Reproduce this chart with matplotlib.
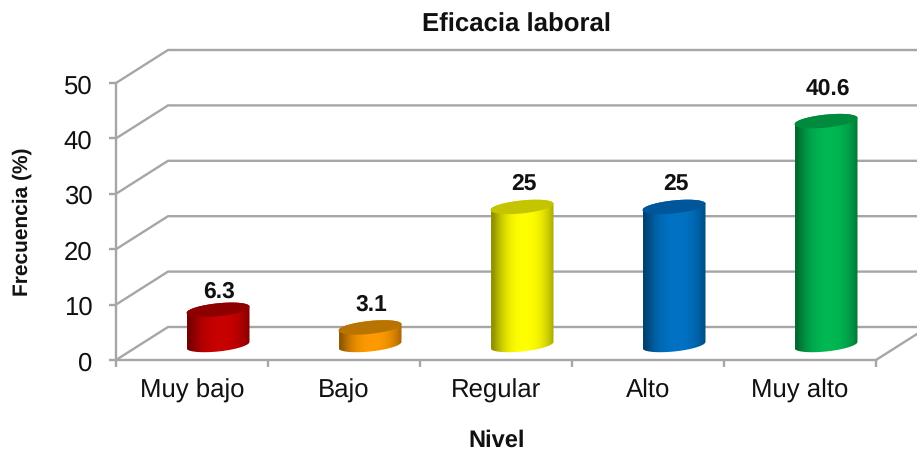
import numpy as np
import matplotlib
matplotlib.use("Agg")
import matplotlib.pyplot as plt
from matplotlib.patches import Polygon
from matplotlib.colors import to_rgb

niveles = ["Muy bajo", "Bajo", "Regular", "Alto", "Muy alto"]
valores = [6.3, 3.1, 25, 25, 40.6]
etiquetas = ["6.3", "3.1", "25", "25", "40.6"]
y_ticks = [0, 10, 20, 30, 40, 50]

col_lado = ["#c80000", "#ff9a00", "#ffff00", "#0072c4", "#00b853"]
col_tapa = ["#8e0000", "#b87300", "#c4c400", "#00569a", "#008a3e"]
# separacion de cada etiqueta sobre su cilindro, en px
sep_etiqueta = [15, 19, 20, 20, 29]

W, H = 917, 452
gris = "#a6a6a6"

plt.rcParams["font.family"] = ["Liberation Sans", "DejaVu Sans"]
plt.rcParams["text.hinting"] = "no_hinting"
fig = plt.figure(figsize=(W / 100, H / 100), dpi=100)
# eje frontal: x 116-876 px, y 84-361 px
ax = fig.add_axes([116 / W, 1 - 361 / H, 760 / W, 277 / H])
ax.set_xlim(0, 5)
ax.set_ylim(0, 50)
ax.patch.set_visible(False)

# profundidad del 3D en unidades de datos
px_x = 5 / 760
px_y = 50 / 277
dx = 52 * px_x
dy = 33 * px_y

# paredes y lineas de rejilla
for v in y_ticks:
    ax.plot([0, dx, 5 + dx], [v, v + dy, v + dy], color=gris, lw=1.7, clip_on=False, zorder=1)
ax.plot([5, 5 + dx], [0, dy], color=gris, lw=1.7, clip_on=False, zorder=1)

for s in ["top", "right"]:
    ax.spines[s].set_visible(False)
for s in ["left", "bottom"]:
    ax.spines[s].set_color(gris)
    ax.spines[s].set_linewidth(1.7)

ax.set_yticks(y_ticks)
ax.set_xticks(range(6))
ax.set_xticks(np.arange(5) + 0.5, minor=True)
ax.set_xticklabels([])
ax.set_xticklabels(niveles, minor=True)
ax.tick_params(axis="x", which="major", length=5, width=1.7, color=gris)
ax.tick_params(axis="x", which="minor", length=0, labelsize=18.5, pad=13, labelcolor="#111111")
ax.tick_params(axis="y", length=5, width=1.7, color=gris, labelsize=18.5, pad=12, labelcolor="#111111")
for lab in ax.get_yticklabels():
    lab.set_verticalalignment("center_baseline")

# cilindros
a = 31.5 * px_x
b = 6.5 * px_y
tilt = 0.10 * px_y / px_x
t = np.linspace(0, 2 * np.pi, 120)
sombra = np.linspace(-1, 1, 200)
luz = 1 - 0.42 * np.clip(np.abs(sombra - 0.08), 0, 1) ** 2.4

for i, v in enumerate(valores):
    cx = i + 0.5 + dx / 2
    y0 = dy / 2 - 0.27
    y1 = y0 + v * 0.993 + 0.1
    ex = cx + a * np.cos(t)
    slope = tilt * a * np.cos(t)
    top_y = y1 + b * np.sin(t) + slope

    # silueta del lado
    t_inf = np.linspace(np.pi, 2 * np.pi, 60)
    t_sup = np.linspace(0, np.pi, 60)
    xs = np.r_[cx + a * np.cos(t_inf), cx + a * np.cos(t_sup)]
    ys = np.r_[y0 + b * np.sin(t_inf) + tilt * a * np.cos(t_inf),
               y1 + b * np.sin(t_sup) + tilt * a * np.cos(t_sup)]
    silueta = Polygon(np.c_[xs, ys], closed=True, fc="none", ec="none", transform=ax.transData)
    ax.add_patch(silueta)
    silueta.set_clip_on(False)

    rgb = np.array(to_rgb(col_lado[i]))
    franja = (luz[:, None] * rgb)[None, :, :]
    im = ax.imshow(franja, extent=[cx - a, cx + a, y0 - 2 * b, y1 + 2 * b], aspect="auto",
                   zorder=3, interpolation="bilinear")
    im.set_clip_path(silueta)

    ax.fill(ex, top_y, color=col_tapa[i], lw=0, zorder=4, clip_on=False)
    ax.text(cx + 1.5 * px_x, y1 + b + sep_etiqueta[i] * px_y, etiquetas[i], ha="center", va="center_baseline",
            fontsize=16.5, fontweight="bold", color="#111111", zorder=5, clip_on=False)

ax.set_xlim(0, 5)
ax.set_ylim(0, 50)

fig.text(516 / W, 1 - 25 / H, "Eficacia laboral", ha="center", va="center",
         fontsize=18.5, fontweight="bold", color="#111111")
fig.text(497 / W, 1 - 441 / H, "Nivel", ha="center", va="center",
         fontsize=17, fontweight="bold", color="#111111")
fig.text(22 / W, 1 - 222 / H, "Frecuencia (%)", ha="center", va="center", rotation=90,
         fontsize=15, fontweight="bold", color="#111111")

fig.savefig("out.png", dpi=100)
